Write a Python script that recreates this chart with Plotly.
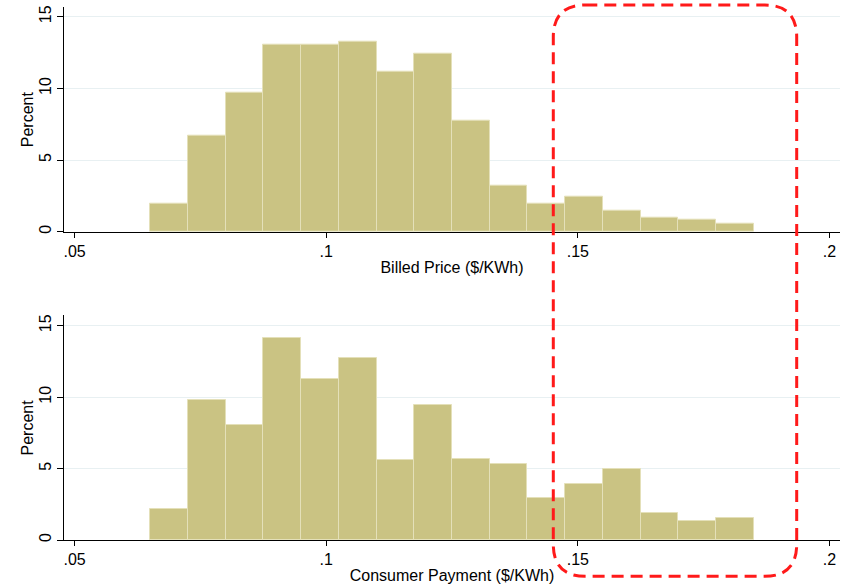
import plotly.graph_objects as go

# Bin centers ($/KWh), bin width 0.0075
bin_centers = [0.06875, 0.07625, 0.08375, 0.09125, 0.09875, 0.10625, 0.11375, 0.12125,
               0.12875, 0.13625, 0.14375, 0.15125, 0.15875, 0.16625, 0.17375, 0.18125]
bin_width = 0.0075

billed_pct = [1.95, 6.7, 9.7, 13.08, 13.08, 13.27, 11.13, 12.39,
              7.76, 3.19, 1.98, 2.45, 1.45, 0.98, 0.84, 0.59]
payment_pct = [2.17, 9.8, 8.03, 14.14, 11.24, 12.73, 5.6, 9.44,
               5.67, 5.34, 2.92, 3.94, 4.97, 1.91, 1.33, 1.52]

x_ticks = [0.05, 0.10, 0.15, 0.20]
x_ticklabels = [".05", ".1", ".15", ".2"]
y_ticks = [0, 5, 10, 15]
y_ticklabels = ["0", "5", "10", "15"]

W, H = 843, 587
FILL = "#CAC383"
EDGE = "#E4E0B9"
GRID = "#E8F0F2"
FONT = "Liberation Sans, Arial, Helvetica, sans-serif"
FS = 16

fig = go.Figure()
fig.add_trace(go.Bar(x=bin_centers, y=billed_pct, width=bin_width,
                     marker=dict(color=FILL, line=dict(color=EDGE, width=1)),
                     xaxis="x", yaxis="y", showlegend=False))
fig.add_trace(go.Bar(x=bin_centers, y=payment_pct, width=bin_width,
                     marker=dict(color=FILL, line=dict(color=EDGE, width=1)),
                     xaxis="x2", yaxis="y2", showlegend=False))

xdom = [64 / W, 840 / W]
top_dom = [1 - 231.7 / H, 1 - 6.7 / H]
bot_dom = [1 - 540 / H, 1 - 315 / H]

common_x = dict(range=[0.0479, 0.2021], tickvals=x_ticks, ticktext=x_ticklabels,
                ticks="outside", ticklen=5, tickcolor="#000", showline=True,
                linecolor="#000", linewidth=1, showgrid=False, zeroline=False,
                tickfont=dict(size=FS, color="#000", family=FONT))
common_y = dict(tickvals=y_ticks, ticktext=y_ticklabels,
                ticks="outside", ticklen=6, tickcolor="#000", showline=True,
                linecolor="#000", linewidth=1, showgrid=True, gridcolor=GRID,
                gridwidth=1, zeroline=False, tickangle=-90,
                tickfont=dict(size=FS, color="#000", family=FONT))

fig.update_layout(
    width=W, height=H,
    margin=dict(l=0, r=0, t=0, b=0, autoexpand=False),
    paper_bgcolor="white", plot_bgcolor="white",
    bargap=0,
    font=dict(family=FONT, color="#000", size=FS),
    xaxis=dict(domain=xdom, anchor="y", **common_x,
               title=dict(text="Billed Price ($/KWh)", standoff=2,
                          font=dict(size=FS, family=FONT))),
    yaxis=dict(domain=top_dom, anchor="x", range=[0, 15.7], **common_y),
    xaxis2=dict(domain=xdom, anchor="y2", **common_x,
                title=dict(text="Consumer Payment ($/KWh)", standoff=2,
                           font=dict(size=FS, family=FONT))),
    yaxis2=dict(domain=bot_dom, anchor="x2", range=[0, 15.75], **common_y),
)

# Y-axis titles as rotated annotations
for dom in (top_dom, bot_dom):
    fig.add_annotation(text="Percent", textangle=-90, xref="paper", yref="paper",
                       x=27 / W, y=(dom[0] + dom[1]) / 2, xanchor="center",
                       yanchor="middle", showarrow=False,
                       font=dict(size=FS, family=FONT, color="#000"))

# Red dashed rounded highlight box (paper coordinates from pixel positions)
x0, x1, y0, y1, r = 553.3, 796.7, 5, 576.3, 32
def px(x): return x / W
def py(y): return 1 - y / H
path = (f"M {px(x0 + r)} {py(y0)} L {px(x1 - r)} {py(y0)} "
        f"Q {px(x1)} {py(y0)} {px(x1)} {py(y0 + r)} "
        f"L {px(x1)} {py(y1 - r)} "
        f"Q {px(x1)} {py(y1)} {px(x1 - r)} {py(y1)} "
        f"L {px(x0 + r)} {py(y1)} "
        f"Q {px(x0)} {py(y1)} {px(x0)} {py(y1 - r)} "
        f"L {px(x0)} {py(y0 + r)} "
        f"Q {px(x0)} {py(y0)} {px(x0 + r)} {py(y0)} Z")
fig.add_shape(type="path", path=path, xref="paper", yref="paper",
              line=dict(color="#FF1A1A", width=3, dash="12px,7px"),
              fillcolor="rgba(0,0,0,0)", layer="above")

fig.write_html("out.html", config={"displayModeBar": False},
               post_script="document.body.style.margin='0';document.body.style.overflow='hidden';")
